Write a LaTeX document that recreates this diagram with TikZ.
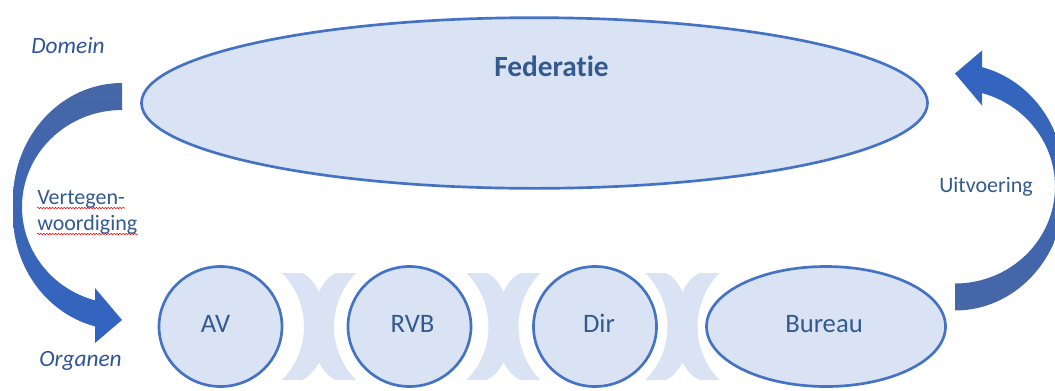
\documentclass[tikz,border=0pt]{standalone}
\usepackage{fontspec}
\setmainfont[Ligatures=CommonOff]{Carlito}
\usetikzlibrary{shapes.geometric,decorations.pathmorphing}
\definecolor{edgeblue}{HTML}{4472C4}
\definecolor{lightfill}{HTML}{DAE3F3}
\definecolor{txtblue}{HTML}{335A8E}
\definecolor{labblue}{HTML}{2F5496}
\definecolor{darkarrow}{HTML}{4767A6}
\definecolor{brightarrow}{HTML}{3064C2}
\begin{document}
\begin{tikzpicture}[x=0.75pt,y=-0.75pt,
  orgshape/.style={ellipse, draw=edgeblue, fill=lightfill, line width=2pt, inner sep=0pt},
  fedtext/.style={anchor=base, inner sep=0pt, text=txtblue, font=\fontsize{22}{26}\selectfont\bfseries},
  orgtext/.style={anchor=base, inner sep=0pt, text=txtblue, font=\fontsize{20}{24}\selectfont},
  italtext/.style={anchor=base, inner sep=0pt, text=labblue, font=\fontsize{17.5}{21}\selectfont\itshape},
  plaintext/.style={inner sep=0pt, text=txtblue, font=\fontsize{16.5}{20}\selectfont},
  spell/.style={draw=red, line width=0.4pt, decorate, decoration={snake, amplitude=0.55pt, segment length=2.2pt}},
  connfill/.style={fill=lightfill}]
\useasboundingbox (0,0) rectangle (1055,390);
\begin{scope}
\clip (0,0) rectangle (1055,390);
% left curved arrow (Vertegenwoordiging)
\shade[top color=darkarrow, bottom color=brightarrow]
  (122,83) -- (122,110)
  .. controls (66.8,110) and (22,153.4) .. (22,207)
  .. controls (22,250.5) and (51.8,288.7) .. (95,300.4)
  -- (95,288) -- (122,320) -- (95,343) -- (95,326.4)
  .. controls (46.8,313.4) and (13,267.5) .. (13,215)
  -- (13,200)
  .. controls (13,135.4) and (61.8,83) .. (122,83) -- cycle;
% right curved arrow (Uitvoering)
\shade[top color=brightarrow, bottom color=darkarrow]
  (955,310.5) -- (955,283.5)
  .. controls (1010.2,283.5) and (1055,240.1) .. (1055,186.5)
  .. controls (1055,143) and (1025.2,104.8) .. (982,93.1)
  -- (982,105.5) -- (955,73.5) -- (982,50.5) -- (982,67.1)
  .. controls (1030.2,80.1) and (1064,126) .. (1064,178.5)
  -- (1064,193.5)
  .. controls (1064,258.1) and (1015.2,310.5) .. (955,310.5) -- cycle;
\end{scope}
% connectors between the organs
\foreach \cx in {319,503.5,682.5}{
  \begin{scope}[shift={(\cx,326.5)}]
  \fill[connfill]
    (-37,-53.5) -- (-17,-53.5) .. controls (-9,-50) and (-4,-43) .. (0,-34.5)
    .. controls (4,-43) and (9,-50) .. (17,-53.5) -- (37,-53.5)
    .. controls (22.9,-39.2) and (15,-20) .. (15,0)
    .. controls (15,20) and (22.9,39.2) .. (37,53.5)
    -- (17,53.5) .. controls (9,50) and (4,43) .. (0,36)
    .. controls (-4,43) and (-9,50) .. (-17,53.5) -- (-37,53.5)
    .. controls (-22.9,39.2) and (-15,20) .. (-15,0)
    .. controls (-15,-20) and (-22.9,-39.2) .. (-37,-53.5) -- cycle;
  \end{scope}
}
% shapes
\node[orgshape, minimum width=589.5pt, minimum height=128pt] (fed) at (534.5,103) {};
\node[orgshape, minimum width=92.25pt, minimum height=90pt] (av) at (220.5,326.5) {};
\node[orgshape, minimum width=92.25pt, minimum height=90pt] (rvb) at (409.5,326.5) {};
\node[orgshape, minimum width=92.25pt, minimum height=90pt] (dir) at (595,326.5) {};
\node[orgshape, minimum width=179.25pt, minimum height=90pt] (bur) at (826,326.5) {};
% texts
\node[fedtext] (fedlbl) at (551.5,76) {Federatie};
\node[orgtext] (avlbl) at (215.5,332) {AV};
\node[orgtext] (rvblbl) at (412.5,332) {RVB};
\node[orgtext] (dirlbl) at (599,332) {Dir};
\node[orgtext] (burlbl) at (824,332) {Bureau};
\node[italtext] (dom) at (68,53) {Domein};
\node[italtext] (org) at (80.5,366) {Organen};
\node[plaintext, anchor=base west] (vt1) at (37,204) {Vertegen-};
\node[plaintext, anchor=base west] (vt2) at (37,230) {woordiging};
\node[plaintext, anchor=base] (uit) at (986,192) {Uitvoering};
\draw[spell] ([yshift=-3pt]vt1.base west) -- ([yshift=-3pt]vt1.base east);
\draw[spell] ([yshift=-3pt]vt2.base west) -- ([yshift=-3pt]vt2.base east);
\end{tikzpicture}
\end{document}
